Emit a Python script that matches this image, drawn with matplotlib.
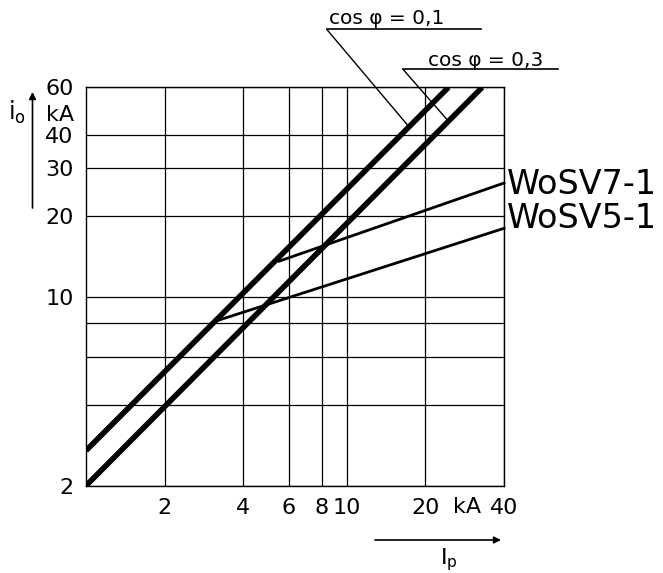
import numpy as np
import matplotlib.pyplot as plt
from matplotlib.lines import Line2D

# data (log-log)
ip_cos01 = [1.0, 24.5]
io_cos01 = [2.7, 60.0]
ip_cos03 = [1.0, 33.0]
io_cos03 = [2.0, 60.0]
ip_wosv7 = [5.5, 40.0]
io_wosv7 = [13.6, 26.5]
ip_wosv5 = [3.2, 40.0]
io_wosv5 = [8.2, 18.0]

x_ticks = [2, 4, 6, 8, 10, 20, 40]
x_labels = ['2', '4', '6', '8', '10', '20', '40']
y_ticks = [2, 4, 6, 8, 10, 20, 30, 40, 60]
y_labels = ['2', '', '', '', '10', '20', '30', '40', '60']

W, H = 663, 573


def px(x, y):
    # pixel (from top-left) -> figure fraction
    return x / W, 1 - y / H


def on_line(ips, ios, ip):
    return 10 ** np.interp(np.log10(ip), np.log10(ips), np.log10(ios))


fig = plt.figure(figsize=(W / 100, H / 100), dpi=100)
ax = fig.add_axes([86 / W, 1 - 485.7 / H, 418 / W, 398.4 / H])
ax.set_xscale('log')
ax.set_yscale('log')
ax.set_xlim(1, 40)
ax.set_ylim(2, 60)

ax.set_xticks(x_ticks)
ax.set_xticklabels(x_labels)
ax.set_yticks(y_ticks)
ax.set_yticklabels(y_labels)
ax.minorticks_off()
ax.tick_params(length=0, labelsize=16, pad=9)
ax.grid(True, color='black', linewidth=0.9)
for s in ax.spines.values():
    s.set_linewidth(1.0)

ax.plot(ip_cos01, io_cos01, color='black', lw=4, solid_capstyle='butt')
ax.plot(ip_cos03, io_cos03, color='black', lw=4, solid_capstyle='butt')
ax.plot(ip_wosv7, io_wosv7, color='black', lw=2, clip_on=False)
ax.plot(ip_wosv5, io_wosv5, color='black', lw=2, clip_on=False)

# curve labels
fig.text(*px(507, 185), 'WoSV7-1', fontsize=24, va='center', ha='left')
fig.text(*px(507, 219), 'WoSV5-1', fontsize=24, va='center', ha='left')

# cos phi annotations with underline and leader
notes = [('cos φ = 0,1', ip_cos01, io_cos01, 17.3, 329, 18, 326.7, 480.7, 29.3),
         ('cos φ = 0,3', ip_cos03, io_cos03, 24.5, 428, 60, 403, 558, 69.3)]
for txt, ips, ios, ipa, tx, ty, ux0, ux1, uy in notes:
    fig.text(*px(tx, ty), txt, fontsize=14.5, va='center', ha='left')
    fig.add_artist(Line2D([ux0 / W, ux1 / W], [1 - uy / H, 1 - uy / H],
                          color='black', lw=1.2, transform=fig.transFigure))
    ax.annotate('', xy=(ipa, on_line(ips, ios, ipa)), xycoords='data',
                xytext=px(ux0, uy), textcoords='figure fraction',
                arrowprops=dict(arrowstyle='-', color='black', lw=1.0,
                                shrinkA=0, shrinkB=0))

# axis units and names
fig.text(*px(467, 507), 'kA', fontsize=16, va='center', ha='center')
fig.text(*px(60, 115), 'kA', fontsize=16, va='center', ha='center')
fig.text(*px(17, 112), 'i$_\\mathregular{o}$', fontsize=17, va='center', ha='center')
ax.annotate('', xy=px(32.5, 92), xycoords='figure fraction',
            xytext=px(32.5, 208), textcoords='figure fraction',
            arrowprops=dict(arrowstyle='-|>', color='black', lw=1.2,
                            mutation_scale=10, shrinkA=0, shrinkB=0))
ax.annotate('', xy=px(501, 540), xycoords='figure fraction',
            xytext=px(375, 540), textcoords='figure fraction',
            arrowprops=dict(arrowstyle='-|>', color='black', lw=1.2,
                            mutation_scale=10, shrinkA=0, shrinkB=0))
fig.text(*px(449, 560), 'I$_\\mathregular{p}$', fontsize=16, va='center', ha='center')

fig.savefig('out.png', dpi=100)
